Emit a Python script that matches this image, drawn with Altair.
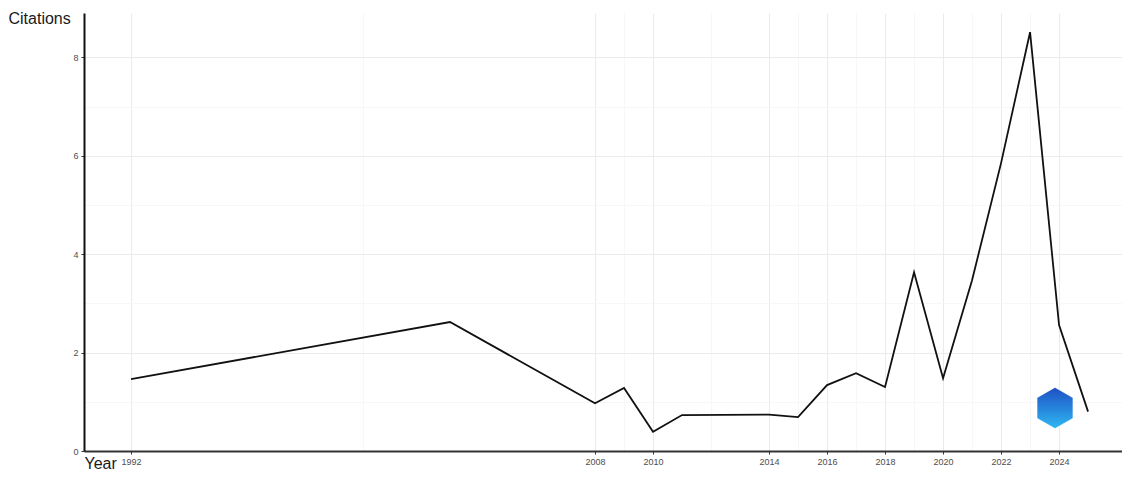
import altair as alt
import pandas as pd

years = [1992, 2003, 2008, 2009, 2010, 2011, 2014, 2015, 2016, 2017, 2018,
         2019, 2020, 2021, 2022, 2023, 2024, 2025]
citations = [1.46, 2.62, 0.97, 1.28, 0.39, 0.73, 0.74, 0.69, 1.34, 1.58, 1.30,
             3.63, 1.48, 3.47, 5.85, 8.51, 2.56, 0.80]

x_ticks = [1992, 2008, 2010, 2014, 2016, 2018, 2020, 2022, 2024]
x_minor = [2000, 2009, 2012, 2015, 2017, 2019, 2021, 2023]
y_ticks = [0, 2, 4, 6, 8]
y_minor = [1, 3, 5, 7]

X_DOMAIN = [1990.38, 2026.17]
Y_DOMAIN = [0, 8.9]
FONT = "Liberation Sans"

df = pd.DataFrame({"Year": years, "Citations": citations})


def is_minor(lst):
    return "indexof([" + ",".join(str(v) for v in lst) + "], datum.value) >= 0"


def axis(major, minor, **kw):
    cond = is_minor(minor)
    return alt.Axis(
        values=sorted(major + minor),
        grid=True,
        gridColor=alt.expr(f"{cond} ? '#f5f5f5' : '#ebebeb'"),
        gridWidth=alt.expr(f"{cond} ? 0.8 : 1"),
        tickSize=alt.expr(f"{cond} ? 0 : 3"),
        labelExpr=f"{cond} ? '' : datum.label",
        tickColor="#333333", labelFontSize=9, labelColor="#4d4d4d",
        labelPadding=3, labelFont=FONT, titleFont=FONT, titleFontSize=16,
        titleFontWeight="normal", titleColor="#1a1a1a", domainWidth=2,
        **kw,
    )


line = alt.Chart(df).mark_line(color="#111111", strokeWidth=1.8).encode(
    x=alt.X("Year:Q", scale=alt.Scale(domain=X_DOMAIN, nice=False, zero=False),
            axis=axis(x_ticks, x_minor, format="d", domainColor="#333333",
                      title="Year", titleAnchor="start", titleAlign="left",
                      titleX=0, titleY=17, titleBaseline="alphabetic")),
    y=alt.Y("Citations:Q", scale=alt.Scale(domain=Y_DOMAIN, nice=False),
            axis=axis(y_ticks, y_minor, domainColor="#111111",
                      title="Citations", titleAngle=0, titleAlign="left",
                      titleX=-76, titleY=5, titleBaseline="middle")),
)

hexagon = "M0,-1L0.87,-0.5L0.87,0.5L0,1L-0.87,0.5L-0.87,-0.5Z"
logo = alt.Chart(pd.DataFrame({"k": [0]})).mark_point(
    shape=hexagon, filled=True, size=1700, opacity=1,
    color=alt.Gradient(gradient="linear",
                       stops=[alt.GradientStop(color="#1e4fc4", offset=0),
                              alt.GradientStop(color="#2fb8f2", offset=1)],
                       x1=0, x2=0, y1=0, y2=1),
    stroke="#ffffff", strokeWidth=0.5,
).encode(x=alt.value(971), y=alt.value(395))

chart = alt.layer(line, logo).properties(
    width=1038, height=438,
    autosize=alt.AutoSizeParams(type="none"),
    padding={"left": 76, "top": 5, "right": 0, "bottom": 22},
    background="white",
).configure_view(stroke=None)

chart.save("out.html", embed_options={"renderer": "svg", "actions": False})
